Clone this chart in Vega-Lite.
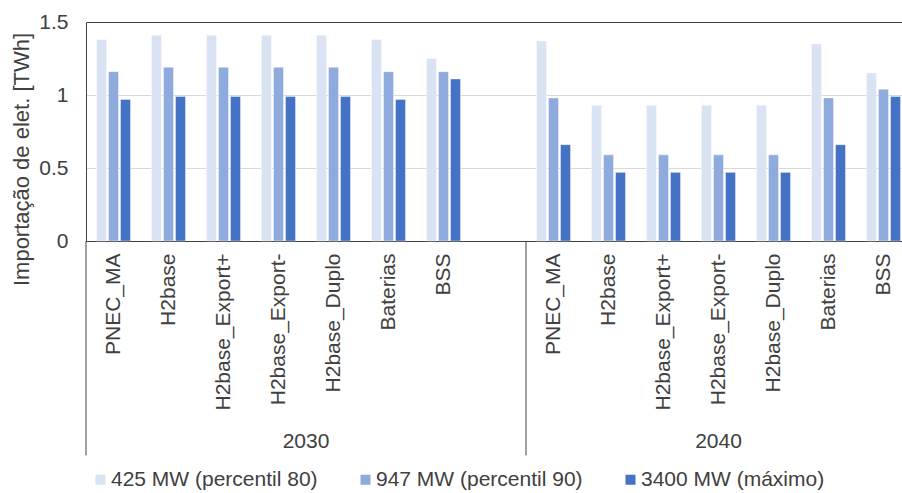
{
  "$schema": "https://vega.github.io/schema/vega-lite/v6.json",
  "width": 816,
  "height": 219,
  "autosize": "none",
  "padding": {"left": 86, "top": 22, "right": 0, "bottom": 252},
  "background": "white",
  "config": {
    "view": {"stroke": null},
    "font": "Liberation Sans",
    "text": {"font": "Liberation Sans"}
  },
  "datasets": {
    "valores": [
      {"slot": "2030 PNEC_MA", "serie": "425 MW (percentil 80)", "valor": 1.38},
      {"slot": "2030 PNEC_MA", "serie": "947 MW (percentil 90)", "valor": 1.16},
      {"slot": "2030 PNEC_MA", "serie": "3400 MW (máximo)", "valor": 0.97},
      {"slot": "2030 H2base", "serie": "425 MW (percentil 80)", "valor": 1.41},
      {"slot": "2030 H2base", "serie": "947 MW (percentil 90)", "valor": 1.19},
      {"slot": "2030 H2base", "serie": "3400 MW (máximo)", "valor": 0.99},
      {"slot": "2030 H2base_Export+", "serie": "425 MW (percentil 80)", "valor": 1.41},
      {"slot": "2030 H2base_Export+", "serie": "947 MW (percentil 90)", "valor": 1.19},
      {"slot": "2030 H2base_Export+", "serie": "3400 MW (máximo)", "valor": 0.99},
      {"slot": "2030 H2base_Export-", "serie": "425 MW (percentil 80)", "valor": 1.41},
      {"slot": "2030 H2base_Export-", "serie": "947 MW (percentil 90)", "valor": 1.19},
      {"slot": "2030 H2base_Export-", "serie": "3400 MW (máximo)", "valor": 0.99},
      {"slot": "2030 H2base_Duplo", "serie": "425 MW (percentil 80)", "valor": 1.41},
      {"slot": "2030 H2base_Duplo", "serie": "947 MW (percentil 90)", "valor": 1.19},
      {"slot": "2030 H2base_Duplo", "serie": "3400 MW (máximo)", "valor": 0.99},
      {"slot": "2030 Baterias", "serie": "425 MW (percentil 80)", "valor": 1.38},
      {"slot": "2030 Baterias", "serie": "947 MW (percentil 90)", "valor": 1.16},
      {"slot": "2030 Baterias", "serie": "3400 MW (máximo)", "valor": 0.97},
      {"slot": "2030 BSS", "serie": "425 MW (percentil 80)", "valor": 1.25},
      {"slot": "2030 BSS", "serie": "947 MW (percentil 90)", "valor": 1.16},
      {"slot": "2030 BSS", "serie": "3400 MW (máximo)", "valor": 1.11},
      {"slot": "2040 PNEC_MA", "serie": "425 MW (percentil 80)", "valor": 1.37},
      {"slot": "2040 PNEC_MA", "serie": "947 MW (percentil 90)", "valor": 0.98},
      {"slot": "2040 PNEC_MA", "serie": "3400 MW (máximo)", "valor": 0.66},
      {"slot": "2040 H2base", "serie": "425 MW (percentil 80)", "valor": 0.93},
      {"slot": "2040 H2base", "serie": "947 MW (percentil 90)", "valor": 0.59},
      {"slot": "2040 H2base", "serie": "3400 MW (máximo)", "valor": 0.47},
      {"slot": "2040 H2base_Export+", "serie": "425 MW (percentil 80)", "valor": 0.93},
      {"slot": "2040 H2base_Export+", "serie": "947 MW (percentil 90)", "valor": 0.59},
      {"slot": "2040 H2base_Export+", "serie": "3400 MW (máximo)", "valor": 0.47},
      {"slot": "2040 H2base_Export-", "serie": "425 MW (percentil 80)", "valor": 0.93},
      {"slot": "2040 H2base_Export-", "serie": "947 MW (percentil 90)", "valor": 0.59},
      {"slot": "2040 H2base_Export-", "serie": "3400 MW (máximo)", "valor": 0.47},
      {"slot": "2040 H2base_Duplo", "serie": "425 MW (percentil 80)", "valor": 0.93},
      {"slot": "2040 H2base_Duplo", "serie": "947 MW (percentil 90)", "valor": 0.59},
      {"slot": "2040 H2base_Duplo", "serie": "3400 MW (máximo)", "valor": 0.47},
      {"slot": "2040 Baterias", "serie": "425 MW (percentil 80)", "valor": 1.35},
      {"slot": "2040 Baterias", "serie": "947 MW (percentil 90)", "valor": 0.98},
      {"slot": "2040 Baterias", "serie": "3400 MW (máximo)", "valor": 0.66},
      {"slot": "2040 BSS", "serie": "425 MW (percentil 80)", "valor": 1.15},
      {"slot": "2040 BSS", "serie": "947 MW (percentil 90)", "valor": 1.04},
      {"slot": "2040 BSS", "serie": "3400 MW (máximo)", "valor": 0.99}
    ],
    "separadores": [
      {"slot": "2030 PNEC_MA"},
      {"slot": "2040 PNEC_MA"}
    ],
    "ano2030": [{"slot": "2030 H2base_Duplo", "ano": "2030"}],
    "ano2040": [{"slot": "2040 H2base_Export-", "ano": "2040"}]
  },
  "layer": [
    {
      "data": {"name": "valores"},
      "mark": {"type": "bar", "stroke": "#ffffff", "strokeOpacity": 0.4, "strokeWidth": 1},
      "encoding": {
        "x": {
          "field": "slot",
          "type": "nominal",
          "title": null,
          "sort": null,
          "scale": {
            "domain": ["2030 PNEC_MA", "2030 H2base", "2030 H2base_Export+", "2030 H2base_Export-", "2030 H2base_Duplo", "2030 Baterias", "2030 BSS", "gap", "2040 PNEC_MA", "2040 H2base", "2040 H2base_Export+", "2040 H2base_Export-", "2040 H2base_Duplo", "2040 Baterias", "2040 BSS"],
            "range": [0, 825],
            "paddingInner": 0,
            "paddingOuter": 0
          },
          "axis": {
            "labelAngle": -90,
            "labelFontSize": 21,
            "labelColor": "#404040",
            "labelPadding": 12,
            "labelOverlap": false,
            "labelBound": false,
            "labelLimit": 300,
            "ticks": false,
            "domainColor": "#404040",
            "domainWidth": 1,
            "labelExpr": "datum.value == 'gap' ? '' : slice(datum.value, 5)"
          }
        },
        "xOffset": {
          "field": "serie",
          "type": "nominal",
          "sort": null,
          "scale": {
            "domain": ["425 MW (percentil 80)", "947 MW (percentil 90)", "3400 MW (máximo)"],
            "paddingInner": 0.167,
            "paddingOuter": 0.875
          }
        },
        "y": {
          "field": "valor",
          "type": "quantitative",
          "title": "Importação de elet. [TWh]",
          "scale": {"domain": [0, 1.5], "nice": false, "zero": true},
          "axis": {
            "values": [0, 0.5, 1, 1.5],
            "format": "~g",
            "labelFontSize": 21,
            "labelColor": "#404040",
            "labelPadding": 18,
            "ticks": false,
            "domainColor": "#404040",
            "domainWidth": 1,
            "grid": true,
            "gridColor": {"condition": {"test": "datum.value == 1.5", "value": "#404040"}, "value": "#d9d9d9"},
            "gridWidth": 1,
            "titleFontSize": 22,
            "titleFontWeight": "normal",
            "titleColor": "#404040",
            "titlePadding": 5,
            "titleY": 137,
            "titleAlign": "center"
          }
        },
        "color": {
          "field": "serie",
          "type": "nominal",
          "sort": null,
          "scale": {
            "domain": ["425 MW (percentil 80)", "947 MW (percentil 90)", "3400 MW (máximo)"],
            "range": ["#DAE3F3", "#8FAADC", "#4472C4"]
          },
          "legend": {
            "title": null,
            "orient": "none",
            "legendX": 4,
            "legendY": 447,
            "direction": "horizontal",
            "symbolType": "square",
            "symbolSize": 100,
            "symbolStrokeWidth": 0,
            "labelFontSize": 21,
            "labelColor": "#404040",
            "labelOffset": 0,
            "columnPadding": 37,
            "labelLimit": 400,
            "padding": 0
          }
        }
      }
    },
    {
      "data": {"name": "separadores"},
      "mark": {"type": "rule", "color": "#404040", "strokeWidth": 1},
      "encoding": {
        "x": {"field": "slot", "type": "nominal", "title": null, "bandPosition": 0},
        "y": {"datum": 0},
        "y2": {"datum": -1.468}
      }
    },
    {
      "data": {"name": "ano2030"},
      "mark": {"type": "text", "fontSize": 21, "color": "#404040", "align": "center", "baseline": "alphabetic"},
      "encoding": {
        "x": {"field": "slot", "type": "nominal", "title": null, "bandPosition": 0},
        "y": {"datum": -1.415},
        "text": {"field": "ano", "type": "nominal"}
      }
    },
    {
      "data": {"name": "ano2040"},
      "mark": {"type": "text", "fontSize": 21, "color": "#404040", "align": "center", "baseline": "alphabetic"},
      "encoding": {
        "x": {"field": "slot", "type": "nominal", "title": null, "bandPosition": 0.5},
        "y": {"datum": -1.415},
        "text": {"field": "ano", "type": "nominal"}
      }
    }
  ]
}
